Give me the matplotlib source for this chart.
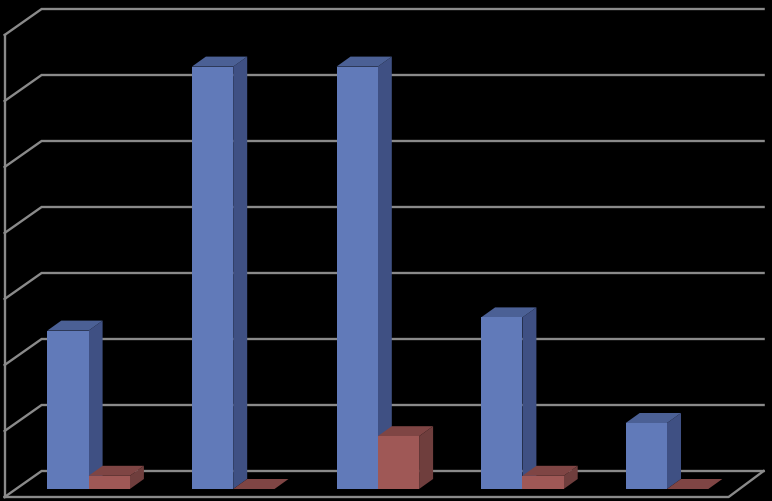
import numpy as np
import matplotlib
matplotlib.use('Agg')
from matplotlib import pyplot as plt
from matplotlib.patches import Polygon

# values
categories = [0, 1, 2, 3, 4]
blue_values = [2.4, 6.4, 6.4, 2.6, 1.0]
red_values = [0.2, 0.0, 0.8, 0.2, 0.0]
grid_values = [0, 1, 2, 3, 4, 5, 6, 7]

# colours: front, side, top
blue_colors = ('#617ab9', '#3f5083', '#4b6095')
red_colors = ('#9f5856', '#6f3e3d', '#7f4544')
line_color = '#8a8a8a'

# one category = 144.6 px, one value unit = 66 px
px_x = 144.6
px_y = 66.0
bar_w = 41.3 / px_x
bar_dx = 14 / px_x
bar_dy = 10 / px_y


def draw_bar(ax, left, height, colors):
    right = left + bar_w
    # side, top, front
    ax.add_patch(Polygon([(right, 0), (right + bar_dx, bar_dy), (right + bar_dx, height + bar_dy), (right, height)],
                         facecolor=colors[1], edgecolor='none', zorder=3))
    ax.add_patch(Polygon([(left, height), (left + bar_dx, height + bar_dy), (right + bar_dx, height + bar_dy), (right, height)],
                         facecolor=colors[2], edgecolor='none', zorder=3))
    ax.add_patch(Polygon([(left, 0), (right, 0), (right, height), (left, height)],
                         facecolor=colors[0], edgecolor='none', zorder=3))


fig = plt.figure(figsize=(7.72, 5.02), dpi=100, facecolor='black')
ax = fig.add_axes([0, 0, 1, 1], facecolor='black')
ax.set_xlim(-88.6 / px_x, (772 - 88.6) / px_x)
ax.set_ylim(-12 / px_y, 490 / px_y)
ax.axis('off')

# walls: front edge of floor sits 8 px below the bars, back edge 18 px above
x_front = -84 / px_x
x_back = -47 / px_x
x_end_front = 640 / px_x
x_end_back = 675 / px_x
y_front = -8 / px_y
y_back = 18 / px_y

for v in grid_values:
    ax.plot([x_front, x_back, x_end_back], [v + y_front, v + y_back, v + y_back],
            color=line_color, lw=1.7, solid_joinstyle='miter', zorder=1)
ax.plot([x_front, x_front], [y_front, grid_values[-1] + y_front], color=line_color, lw=1.7, zorder=1)
ax.plot([x_front, x_end_front, x_end_back], [y_front, y_front, y_back], color=line_color, lw=1.7, zorder=1)

for i in categories:
    draw_bar(ax, i - bar_w, blue_values[i], blue_colors)
for i in categories:
    draw_bar(ax, i, red_values[i], red_colors)

fig.savefig('out.png', dpi=100, facecolor='black')
